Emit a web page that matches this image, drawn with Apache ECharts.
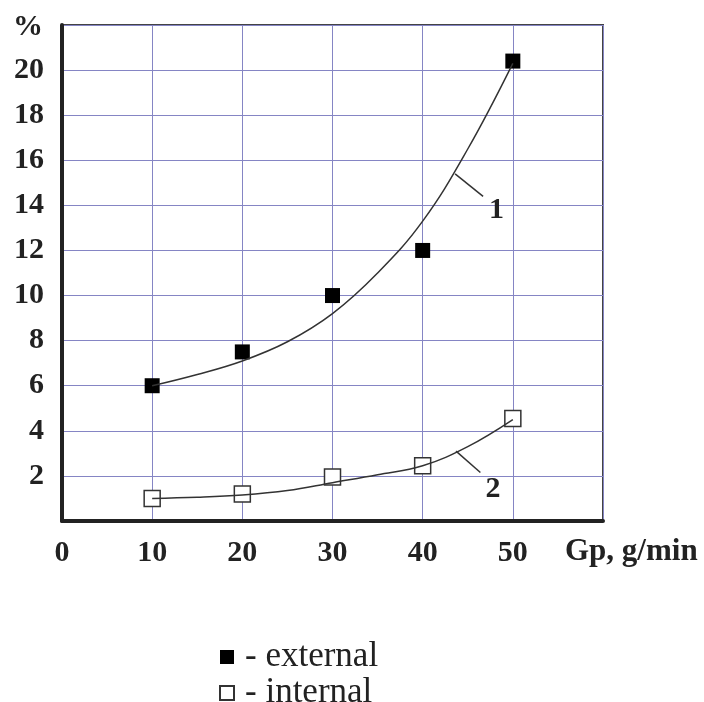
<!DOCTYPE html>
<html>
<head>
<meta charset="utf-8">
<script src="https://cdn.jsdelivr.net/npm/echarts@6/dist/echarts.min.js"></script>
<style>
  html, body { margin: 0; padding: 0; background: #fff; }
  #main { width: 704px; height: 702px; }
</style>
</head>
<body>
<div id="main"></div>
<script>
// measured points
var gp = [10, 20, 30, 40, 50];
var external = [6.0, 7.5, 10.0, 12.0, 20.4];
var internal = [1.0, 1.2, 1.95, 2.45, 4.55];

// fitted curves
var curveX = [10, 15, 20, 25, 30, 35, 40, 45, 50];
var curve1 = [6.0, 6.5, 7.1, 7.95, 9.2, 11.0, 13.3, 16.5, 20.3];
var curve2 = [1.0, 1.05, 1.15, 1.35, 1.7, 2.05, 2.45, 3.3, 4.5];

// curve labels with their leader lines
var leader1 = [[43.6, 15.4], [46.7, 14.4]];
var label1 = [48.2, 13.8];
var leader2 = [[43.7, 3.1], [46.4, 2.15]];
var label2 = [47.8, 1.4];

var xTicks = ['0', '10', '20', '30', '40', '50'];
var yTicks = ['', '2', '4', '6', '8', '10', '12', '14', '16', '18', '20'];

function pairs(xs, ys) {
  return xs.map(function (x, i) { return [x, ys[i]]; });
}

var serif = '"Liberation Serif", "DejaVu Serif", serif';
var ink = '#222';

var option = {
  animation: false,
  backgroundColor: '#fff',
  grid: {
    left: 62, right: 101, top: 25, bottom: 181,
    show: true, borderColor: '#444', borderWidth: 2
  },
  legend: {
    orient: 'vertical',
    left: 214, top: 634, height: 90,
    itemWidth: 14, itemHeight: 14, itemGap: 0,
    icon: 'rect',
    data: ['external', 'internal'],
    formatter: function (n) { return '- ' + n; },
    textStyle: { fontFamily: serif, fontSize: 35, color: ink, lineHeight: 36, padding: [0, 0, 0, 6] }
  },
  xAxis: {
    type: 'value', min: 0, max: 60, interval: 10,
    name: 'Gp, g/min', nameLocation: 'end', nameGap: -38,
    nameTextStyle: { fontFamily: serif, fontSize: 31, fontWeight: 'bold', color: ink,
      verticalAlign: 'top', lineHeight: 62 },
    axisLine: { lineStyle: { color: ink, width: 4 } },
    axisTick: { show: false },
    axisLabel: {
      margin: 17, fontFamily: serif, fontSize: 30, fontWeight: 'bold', color: ink,
      formatter: function (v) { var s = xTicks[v / 10]; return s === undefined ? '' : s; }
    },
    splitLine: { lineStyle: { color: '#8585c4', width: 1 } }
  },
  yAxis: {
    type: 'value', min: 0, max: 22, interval: 2,
    name: '%', nameLocation: 'end', nameGap: -2,
    nameTextStyle: { fontFamily: serif, fontSize: 30, fontWeight: 'bold', color: ink,
      align: 'right', verticalAlign: 'middle', padding: [0, 19, 0, 0] },
    axisLine: { show: true, lineStyle: { color: ink, width: 4 } },
    axisTick: { show: false },
    axisLabel: {
      margin: 18, fontFamily: serif, fontSize: 30, fontWeight: 'bold', color: ink,
      formatter: function (v) { var s = yTicks[v / 2]; return s === undefined ? '' : s; }
    },
    splitLine: { lineStyle: { color: '#8585c4', width: 1 } }
  },
  series: [
    {
      name: 'curve 1', type: 'line', smooth: 0.4, symbol: 'none',
      data: pairs(curveX, curve1),
      lineStyle: { color: '#333', width: 1.5 },
      markLine: {
        silent: true, symbol: 'none', label: { show: false },
        lineStyle: { color: '#333', width: 1.5, type: 'solid' },
        data: [[{ coord: leader1[0] }, { coord: leader1[1] }]]
      },
      markPoint: {
        silent: true, symbolSize: 0,
        label: { show: true, formatter: '1', fontFamily: serif, fontSize: 30, fontWeight: 'bold', color: ink },
        data: [{ coord: label1 }]
      }
    },
    {
      name: 'curve 2', type: 'line', smooth: 0.4, symbol: 'none',
      data: pairs(curveX, curve2),
      lineStyle: { color: '#333', width: 1.5 },
      markLine: {
        silent: true, symbol: 'none', label: { show: false },
        lineStyle: { color: '#333', width: 1.5, type: 'solid' },
        data: [[{ coord: leader2[0] }, { coord: leader2[1] }]]
      },
      markPoint: {
        silent: true, symbolSize: 0,
        label: { show: true, formatter: '2', fontFamily: serif, fontSize: 30, fontWeight: 'bold', color: ink },
        data: [{ coord: label2 }]
      }
    },
    {
      name: 'external', type: 'scatter', symbol: 'rect', symbolSize: 15,
      data: pairs(gp, external),
      itemStyle: { color: '#000', borderColor: '#000', borderWidth: 0, opacity: 1 }
    },
    {
      name: 'internal', type: 'scatter', symbol: 'rect', symbolSize: 16,
      data: pairs(gp, internal),
      itemStyle: { color: '#fff', borderColor: '#333', borderWidth: 1.5, opacity: 1 }
    }
  ]
};

var chart = echarts.init(document.getElementById('main'));
chart.setOption(option);
</script>
</body>
</html>
